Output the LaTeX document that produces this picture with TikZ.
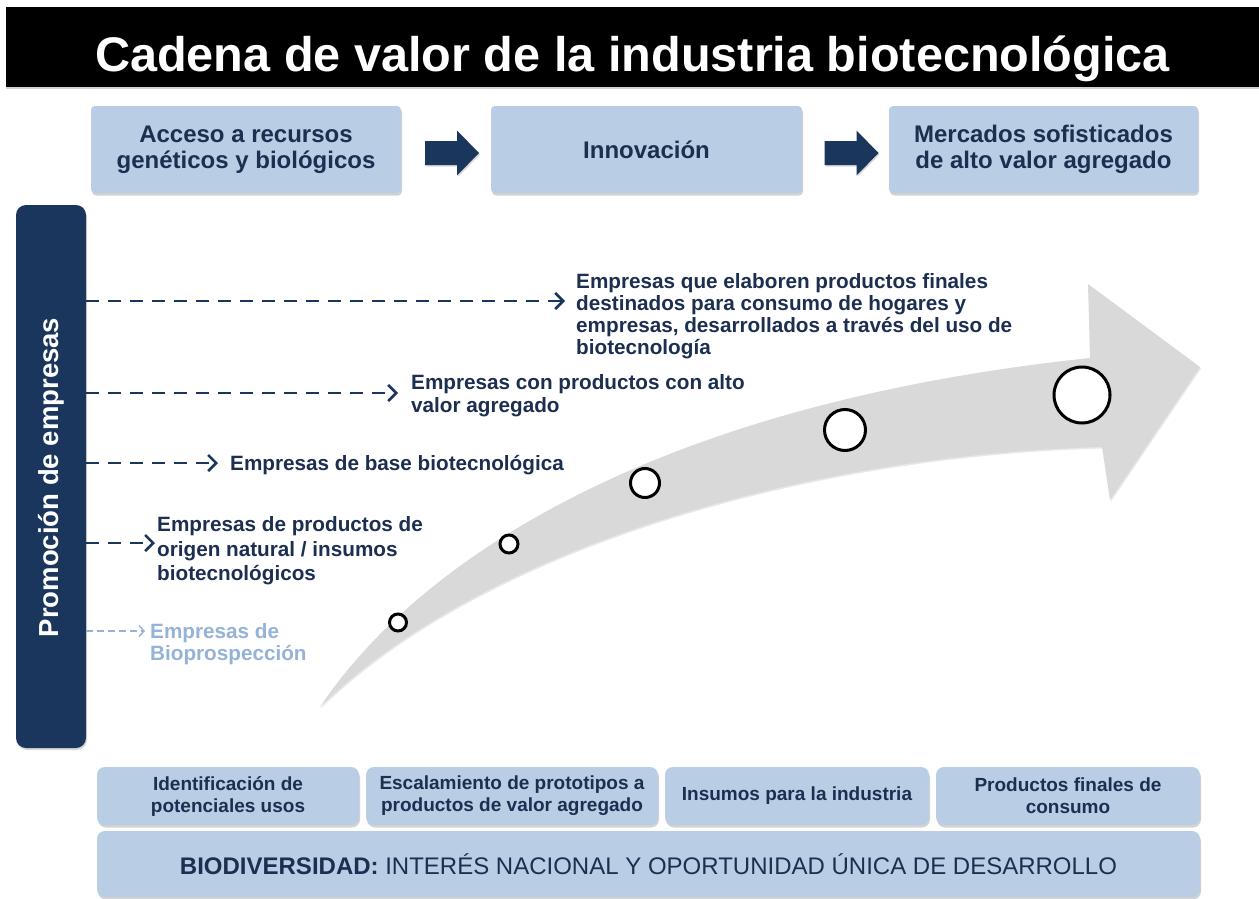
\documentclass[tikz,border=0pt]{standalone}
\usepackage{fontspec}
\setmainfont{Liberation Sans}
\usetikzlibrary{calc,shadows,arrows.meta}
\definecolor{navy}{HTML}{1B365D}
\definecolor{inknavy}{HTML}{1C2F50}
\definecolor{boxblue}{HTML}{B9CDE5}
\definecolor{paleblue}{HTML}{95B3D7}
\definecolor{arrowgray}{HTML}{D9D9D9}
\def\blockarrow(#1){\fill[navy, drop shadow={opacity=0.3, shadow xshift=1pt, shadow yshift=-1.5pt}]
  ($(#1)+(-21,-8.5)$) -- ($(#1)+(11,-8.5)$) -- ($(#1)+(11,-19)$) -- ($(#1)+(33,3.5)$)
  -- ($(#1)+(11,26)$) -- ($(#1)+(11,15.5)$) -- ($(#1)+(-21,15.5)$) -- cycle;}
\tikzset{
  topbox/.style={rectangle, rounded corners=4pt, fill=boxblue, inner sep=0pt, align=center,
    text=inknavy, font=\bfseries\fontsize{24}{26}\selectfont, minimum height=87,
    drop shadow={opacity=0.35, shadow xshift=1pt, shadow yshift=-2.5pt}},
  stagebox/.style={topbox, rounded corners=8pt, minimum height=58, font=\bfseries\fontsize{19}{22}\selectfont},
  firmlabel/.style={anchor=north west, inner sep=0pt, align=left, text=inknavy,
    font=\bfseries\fontsize{20.7}{22}\selectfont},
  dashline/.style={navy, line width=2.7pt, dash pattern=on 13pt off 9pt,
    -{Straight Barb[length=8pt, width=16pt, line width=2.6pt]}},
  stagedot/.style={circle, draw=black, line width=3pt, fill=white, inner sep=0pt}
}
\begin{document}
\begin{tikzpicture}[x=1pt, y=-1pt]
  %%%%% START %%%%%
  \useasboundingbox (0,0) rectangle (1259,899);
  \fill[white] (0,0) rectangle (1259,899);

  % title
  \fill[black, drop shadow={opacity=0.35, shadow xshift=0pt, shadow yshift=-2pt}] (6,7) rectangle (1259,87);
  \node[anchor=base, text=white, font=\bfseries\fontsize{48.6}{50}\selectfont] (title) at (632.5,72)
    {Cadena de valor de la industria biotecnológica};

  % chain of value
  \node[topbox, minimum width=310] (acceso) at (246,149.5) {Acceso a recursos\\genéticos y biológicos};
  \node[topbox, minimum width=311] (innov) at (646.5,149.5) {Innovación};
  \node[topbox, minimum width=309] (mercados) at (1043.5,149.5) {Mercados sofisticados\\de alto valor agregado};
  \coordinate (m1) at ($(acceso.east)!0.5!(innov.west)$);
  \coordinate (m2) at ($(innov.east)!0.5!(mercados.west)$);
  \blockarrow(m1)
  \blockarrow(m2)

  % promotion bar
  \fill[navy, rounded corners=10pt, drop shadow={opacity=0.3, shadow xshift=1pt, shadow yshift=-2pt}] (16,205) rectangle (86,748);
  \node[rotate=90, text=white, font=\bfseries\fontsize{27.5}{30}\selectfont] (promo) at (51,477.5) {Promoción de empresas};

  % growth arrow
  \fill[arrowgray, drop shadow={opacity=0.18, shadow xshift=1pt, shadow yshift=-1.5pt}]
    (320,707) .. controls (415,565) and (645,405) .. (1090,358) -- (1088,284) -- (1200,367)
    -- (1110,500) -- (1102,447) .. controls (800,455) and (480,550) .. (320,707) -- cycle;
  \node[stagedot, minimum size=17] (c1) at (398,622.5) {};
  \node[stagedot, minimum size=18] (c2) at (509,544) {};
  \node[stagedot, minimum size=29] (c3) at (645,483) {};
  \node[stagedot, minimum size=41] (c4) at (845,430) {};
  \node[stagedot, minimum size=56] (c5) at (1082,395) {};

  % kinds of firms
  \node[firmlabel] (final) at (576,273.5) {Empresas que elaboren productos finales\\destinados para consumo de hogares y\\empresas, desarrollados a través del uso de\\biotecnología};
  \node[firmlabel, font=\bfseries\fontsize{20.7}{23}\selectfont] (valor) at (411,374.5) {Empresas con productos con alto\\valor agregado};
  \node[firmlabel, anchor=base west] (base) at (230,470.5) {Empresas de base biotecnológica};
  \node[firmlabel, font=\bfseries\fontsize{20.7}{24.5}\selectfont] (natural) at (157,516.5) {Empresas de productos de\\origen natural / insumos\\biotecnológicos};
  \node[firmlabel, text=paleblue] (biopros) at (150,623.5) {Empresas de\\Bioprospección};

  \coordinate (p1) at (86,301);
  \coordinate (p2) at (86,393);
  \coordinate (p3) at (86,463);
  \coordinate (p4) at (86,543);
  \coordinate (p5) at (86,631);
  \draw[dashline, shorten >=11pt] (p1) -- (p1 -| final.west);
  \draw[dashline, shorten >=13pt] (p2) -- (p2 -| valor.west);
  \draw[dashline, shorten >=12pt] (p3) -- (p3 -| base.west);
  \draw[dashline, shorten >=2pt] (p4) -- (p4 -| natural.west);
  \draw[paleblue, line width=1.4pt, dash pattern=on 7pt off 4pt, shorten >=5pt,
    -{Straight Barb[length=5pt, width=11pt, line width=1.4pt]}] (p5) -- (p5 -| biopros.west);

  % stages
  \node[stagebox, minimum width=262] (ident) at (228,796) {Identificación de\\potenciales usos};
  \node[stagebox, minimum width=292] (escal) at (512,796) {Escalamiento de prototipos a\\productos de valor agregado};
  \node[stagebox, minimum width=264] (insumos) at (797,796) {Insumos para la industria};
  \node[stagebox, minimum width=264] (finales) at (1068,796) {Productos finales de\\consumo};
  \node[stagebox, minimum width=1103, minimum height=66, font=\fontsize{24}{26}\selectfont] (biodiv) at (648.5,864)
    {\textbf{BIODIVERSIDAD:} INTERÉS NACIONAL Y OPORTUNIDAD ÚNICA DE DESARROLLO};
  %%%%% END %%%%%
\end{tikzpicture}
\end{document}
